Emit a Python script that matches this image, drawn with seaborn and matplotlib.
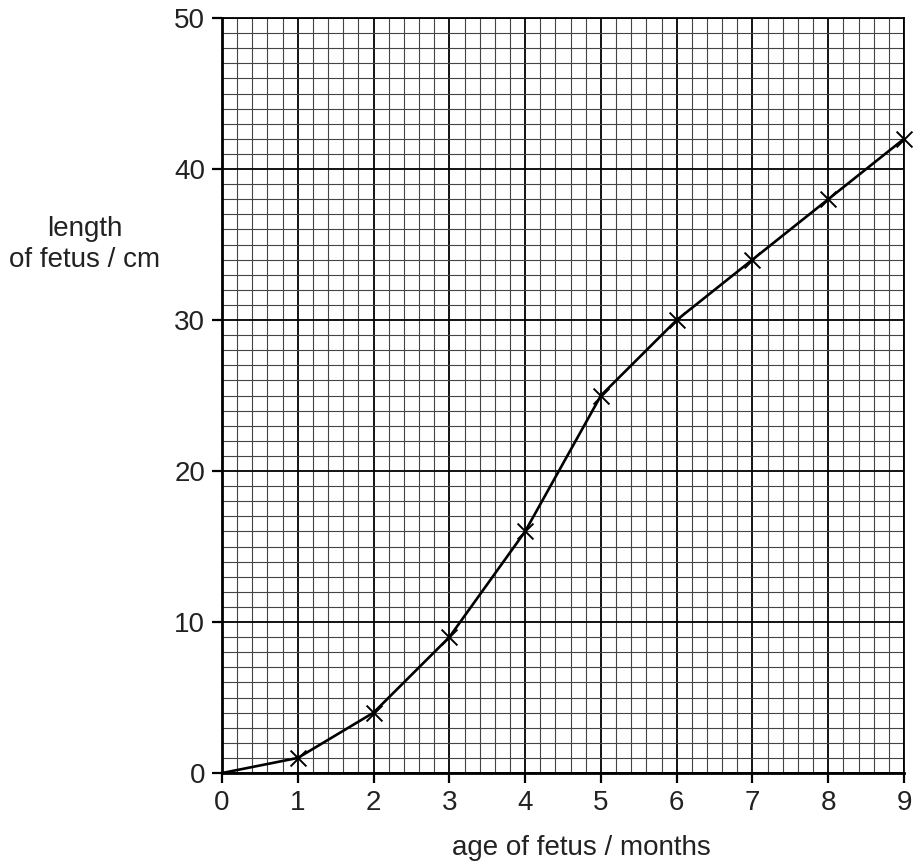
import numpy as np
import pandas as pd
import matplotlib.pyplot as plt
import seaborn as sns
from matplotlib.ticker import MultipleLocator

# fetus growth data
age_months = [0, 1, 2, 3, 4, 5, 6, 7, 8, 9]
length_cm = [0, 1, 4, 9, 16, 25, 30, 34, 38, 42]

df = pd.DataFrame({'age': age_months, 'length': length_cm})

sns.set_style('white')
plt.rcParams['font.family'] = ['Liberation Sans', 'DejaVu Sans']

fig = plt.figure(figsize=(9.14, 8.68), dpi=100)
ax = fig.add_axes([0.2429, 0.1094, 0.7462, 0.8698])

# graph paper grid
ax.xaxis.set_major_locator(MultipleLocator(1))
ax.xaxis.set_minor_locator(MultipleLocator(0.2))
ax.yaxis.set_major_locator(MultipleLocator(10))
ax.yaxis.set_minor_locator(MultipleLocator(1))
ax.grid(which='minor', color='#444444', linewidth=0.8, zorder=0)
ax.grid(which='major', color='black', linewidth=1.3, zorder=0)
ax.set_axisbelow(True)

sns.lineplot(data=df, x='age', y='length', color='black', linewidth=1.9, ax=ax, zorder=3)
sns.scatterplot(data=df[df['age'] > 0], x='age', y='length', marker='x', s=130,
                color='black', linewidth=1.4, ax=ax, zorder=4)
for coll in ax.collections:
    coll.set_clip_on(False)

ax.set_xlim(0, 9)
ax.set_ylim(0, 50)

for side in ['left', 'bottom', 'top', 'right']:
    ax.spines[side].set_color('black')
ax.spines['left'].set_linewidth(2)
ax.spines['bottom'].set_linewidth(2)
ax.spines['top'].set_linewidth(1.3)
ax.spines['right'].set_linewidth(1.3)

ax.tick_params(axis='both', which='major', direction='out', length=7, width=1.6,
               labelsize=20, colors='black', pad=5)
ax.tick_params(axis='both', which='minor', length=0)
ax.tick_params(left=True, bottom=True)
for lbl in ax.get_xticklabels() + ax.get_yticklabels():
    lbl.set_color('#222222')

ax.set_xlabel('')
ax.set_ylabel('')
fig.text(0.093, 0.718, 'length\nof fetus / cm', ha='center', va='center',
         fontsize=20, linespacing=1.25, color='#222222')
fig.text(0.636, 0.023, 'age of fetus / months', ha='center', va='center',
         fontsize=20, color='#222222')

fig.savefig('out.png', dpi=100)
